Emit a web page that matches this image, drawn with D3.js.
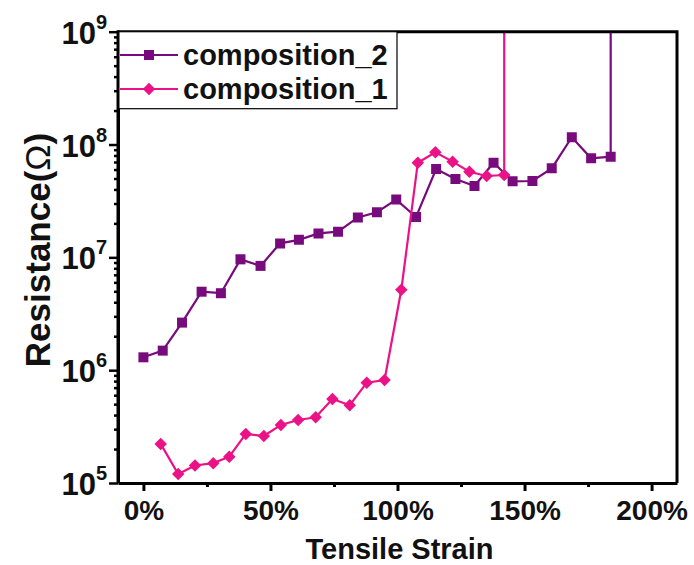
<!DOCTYPE html>
<html>
<head>
<meta charset="utf-8">
<script src="https://cdn.jsdelivr.net/npm/d3@7"></script>
<style>
  body { margin: 0; background: #fff; }
  svg { font-family: "Liberation Sans", Arial, sans-serif; }
</style>
</head>
<body>
<svg id="chart" width="694" height="565"></svg>
<script>
// strain (%) and resistance (ohm)
var strain2 = [0, 7.6, 15.2, 22.9, 30.5, 38.2, 46.1, 53.8, 61.2, 68.9, 76.6, 84.4, 91.9, 99.5,
    107.3, 115.2, 122.8, 130.3, 137.8, 145.3, 153.1, 160.7, 168.6, 176.2, 183.9];
var res2 = [1.30e6, 1.49e6, 2.64e6, 4.96e6, 4.81e6, 9.6e6, 8.4e6, 1.33e7, 1.43e7, 1.63e7, 1.69e7,
    2.26e7, 2.51e7, 3.25e7, 2.28e7, 6.07e7, 4.95e7, 4.29e7, 6.9e7, 4.72e7, 4.75e7, 6.15e7,
    1.16e8, 7.55e7, 7.8e7];

var strain1 = [6.8, 13.7, 20.3, 27.5, 33.8, 40.3, 47.4, 54.1, 60.9, 67.8, 74.4, 81.2, 87.9, 94.9,
    101.5, 108.0, 114.9, 121.7, 128.3, 135.1, 142.0];
var res1 = [2.22e5, 1.20e5, 1.43e5, 1.50e5, 1.71e5, 2.72e5, 2.61e5, 3.27e5, 3.62e5, 3.82e5, 5.56e5,
    4.89e5, 7.75e5, 8.18e5, 5.16e6, 6.9e7, 8.53e7, 7.05e7, 5.74e7, 5.26e7, 5.37e7];

// after the last point each sample goes open circuit (line runs off the top)
var openCircuit = 1e12;

var xTicks = [0, 50, 100, 150, 200];
var xMinor = [25, 75, 125, 175];
var yTicks = [1e5, 1e6, 1e7, 1e8, 1e9];

var series = [
    { name: "composition_2", color: "#770b7d", shape: "square", x: strain2, y: res2 },
    { name: "composition_1", color: "#ea1286", shape: "diamond", x: strain1, y: res1 }
];

var svg = d3.select("#chart");
var pLeft = 118, pRight = 677, pTop = 31.7, pBottom = 483;

var x = d3.scaleLinear().domain([-10, 210]).range([pLeft, pRight]);
var y = d3.scaleLog().domain([1e5, 1e9]).range([pBottom, pTop]);

// square marker, or the same square turned 45 degrees for the diamond
function marker(sel, s, px, py) {
    sel.attr("d", d3.symbol().type(d3.symbolSquare).size(s.shape === "square" ? 100 : 78))
        .attr("transform", "translate(" + px + "," + py + ")" + (s.shape === "diamond" ? " rotate(45)" : ""))
        .attr("fill", s.color);
}

svg.append("defs").append("clipPath").attr("id", "plotclip")
    .append("rect")
    .attr("x", pLeft).attr("y", pTop)
    .attr("width", pRight - pLeft).attr("height", pBottom - pTop);

// series
var plot = svg.append("g").attr("clip-path", "url(#plotclip)");
var line = d3.line().x(d => x(d[0])).y(d => y(d[1]));

series.forEach(function(s) {
    var pts = s.x.map((v, i) => [v, s.y[i]]);
    var linePts = pts.concat([[s.x[s.x.length - 1], openCircuit]]);
    plot.append("path")
        .datum(linePts)
        .attr("d", line)
        .attr("fill", "none")
        .attr("stroke", s.color)
        .attr("stroke-width", 2.2);
    pts.forEach(function(p) {
        plot.append("path").call(marker, s, x(p[0]), y(p[1]));
    });
});

// frame top / right
svg.append("path")
    .attr("d", "M" + pLeft + "," + pTop + "H" + pRight + "V" + pBottom)
    .attr("fill", "none")
    .attr("stroke", "#000")
    .attr("stroke-width", 3);

// x axis
var xAxis = svg.append("g").attr("transform", "translate(0," + pBottom + ")");
xAxis.call(d3.axisBottom(x).tickValues(xTicks).tickFormat(d => d + "%").tickSize(8).tickSizeOuter(0).tickPadding(9));
xAxis.append("g").call(d3.axisBottom(x).tickValues(xMinor).tickFormat("").tickSize(4).tickSizeOuter(0))
    .select(".domain").remove();
xAxis.select(".domain").attr("stroke-width", 3);
xAxis.selectAll(".tick line").attr("stroke-width", 3);
xAxis.selectAll(".tick text")
    .attr("fill", "#111")
    .style("font-size", "28px")
    .style("font-weight", "bold");

// y axis
var yMinor = [];
[1e5, 1e6, 1e7, 1e8].forEach(function(b) {
    for (var k = 2; k <= 9; k++) yMinor.push(b * k);
});
var yAxis = svg.append("g").attr("transform", "translate(" + pLeft + ",0)");
yAxis.call(d3.axisLeft(y).tickValues(yTicks).tickFormat("").tickSize(9).tickSizeOuter(0));
yAxis.append("g").call(d3.axisLeft(y).tickValues(yMinor).tickFormat("").tickSize(4).tickSizeOuter(0))
    .select(".domain").remove();
yAxis.select(".domain").attr("stroke-width", 3);
yAxis.selectAll(".tick line").attr("stroke-width", 2.5);

var yLab = yAxis.selectAll(".ylab")
    .data(yTicks)
    .enter().append("text")
    .attr("class", "ylab")
    .attr("x", -11)
    .attr("y", d => y(d) + 12)
    .attr("text-anchor", "end")
    .attr("fill", "#111")
    .style("font-size", "31px")
    .style("font-weight", "bold");
yLab.append("tspan").text("10");
yLab.append("tspan")
    .attr("dy", -15)
    .style("font-size", "20px")
    .text(d => Math.round(Math.log10(d)));

// axis titles
svg.append("text")
    .attr("x", (pLeft + pRight) / 2 + 2)
    .attr("y", 559)
    .attr("text-anchor", "middle")
    .attr("fill", "#111")
    .style("font-size", "29px")
    .style("font-weight", "bold")
    .text("Tensile Strain");

var yTitle = svg.append("text")
    .attr("transform", "translate(50," + 250 + ") rotate(-90)")
    .attr("text-anchor", "middle")
    .attr("fill", "#111")
    .style("font-size", "35px")
    .style("font-weight", "bold");
yTitle.append("tspan").text("Resistance(");
yTitle.append("tspan").style("font-weight", "normal").text("Ω");
yTitle.append("tspan").text(")");

// legend
var legend = svg.append("g");
legend.append("rect")
    .attr("x", pLeft).attr("y", pTop)
    .attr("width", 279).attr("height", 77)
    .attr("fill", "#fff")
    .attr("stroke", "#000")
    .attr("stroke-width", 1.2);
series.forEach(function(s, i) {
    var ly = 55 + i * 34;
    legend.append("line")
        .attr("x1", pLeft + 2).attr("x2", 178)
        .attr("y1", ly).attr("y2", ly)
        .attr("stroke", s.color)
        .attr("stroke-width", 2.2);
    legend.append("path").call(marker, s, 149, ly);
    legend.append("text")
        .attr("x", 183)
        .attr("y", ly + 10)
        .attr("fill", "#111")
        .style("font-size", "29px")
        .style("font-weight", "bold")
        .text(s.name);
});
// left axis line over legend border
svg.append("line")
    .attr("x1", pLeft).attr("x2", pLeft)
    .attr("y1", pTop - 1.5).attr("y2", pBottom)
    .attr("stroke", "#000")
    .attr("stroke-width", 3);
</script>
</body>
</html>
